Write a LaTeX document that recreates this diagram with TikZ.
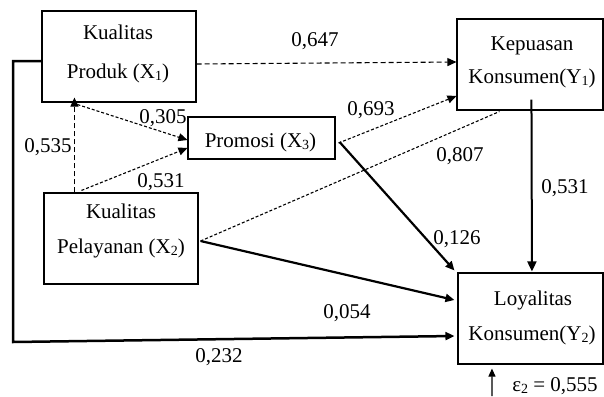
\documentclass[tikz,border=0pt]{standalone}
\usepackage{fontspec}
\setmainfont{Liberation Serif}
\usetikzlibrary{arrows.meta,calc}
\newcommand{\mysub}[1]{\raisebox{-2.5pt}{\fontsize{14}{14}\selectfont #1}}
\begin{document}
\begin{tikzpicture}[x=1pt,y=-1pt,
  box/.style={draw,line width=1.1pt,inner sep=0pt},
  txt/.style={anchor=base,inner sep=0pt,font=\fontsize{21}{24}\selectfont},
  lbl/.style={anchor=base,inner sep=0pt,font=\fontsize{21}{24}\selectfont},
  tip/.style={-{Triangle[length=9pt,width=8pt]}},
  dsh/.style={line width=1.1pt,dash pattern=on 5pt off 3pt},
  dotl/.style={line width=1.1pt,dash pattern=on 3pt off 2pt},
  thk/.style={line width=2.2pt}]
\useasboundingbox (0,0) rectangle (604,396);
% boxes
\node[box,minimum width=154pt,minimum height=91pt] (x1) at (119,56.5) {};
\node[box,minimum width=154pt,minimum height=91pt] (x2) at (121,238.5) {};
\node[box,minimum width=147pt,minimum height=42pt] (x3) at (261.5,138) {};
\node[box,minimum width=146pt,minimum height=91pt] (y1) at (530,64.5) {};
\node[box,minimum width=145pt,minimum height=91pt] (y2) at (530.5,318.5) {};
% box texts
\node[txt] (t1a) at (118,40) {Kualitas};
\node[txt] (t1b) at (118,78) {Produk (X\mysub{1})};
\node[txt] (t2a) at (121,218) {Kualitas};
\node[txt] (t2b) at (121,253) {Pelayanan (X\mysub{2})};
\node[txt] (t3) at (260.5,147) {Promosi (X\mysub{3})};
\node[txt] (t4a) at (532,50) {Kepuasan};
\node[txt] (t4b) at (532,83) {Konsumen(Y\mysub{1})};
\node[txt] (t5a) at (533,305) {Loyalitas};
\node[txt] (t5b) at (532,340) {Konsumen(Y\mysub{2})};
% connectors
\draw[dsh,tip] ($(x1.east)+(0,7.5)$) -- ($(y1.west)+(0,-2.5)$);
\draw[dsh,tip] ($(x2.north west)+(31,0)$) -- ($(x1.south west)+(33,-5)$);
\draw[dotl,tip] ($(x1.south west)+(36,2)$) -- ($(x3.west)+(0,2)$);
\draw[dotl,tip] ($(x2.north west)+(38,-2)$) -- ($(x3.west)+(0,10)$);
\draw[dotl,tip] ($(x3.east)+(3,5)$) -- ($(y1.west)+(0,31.5)$);
\draw[dotl] ($(x2.east)+(2,2.5)$) -- ($(y1.south west)+(43,1)$);
\draw[thk,tip] ($(x3.east)+(4,4)$) -- ($(y2.north west)+(-3,-2)$);
\draw[thk,tip] ($(x2.east)+(2,2.5)$) -- ($(y2.west)+(-3,-18.5)$);
\coordinate (c1) at (13,61);
\coordinate (c2) at (13,342);
\draw[line width=2.5pt,tip] ($(x1.west)+(0,4.5)$) -- (c1) -- (c2) -- ($(y2.west)+(-3,17.5)$);
\draw[line width=2pt,-{Triangle[length=10pt,width=9pt]}] ($(y1.south west)+(75,-11)$) -- ($(y2.north west)+(74.5,-1)$);
% error term
\coordinate (e0) at (492,396);
\draw[line width=1.1pt,-{Triangle[length=8pt,width=7pt]}] (e0) -- ($(y2.south west)+(34.5,4)$);
% coefficients
\node[lbl] (l1) at (315,46) {0,647};
\node[lbl] (l2) at (163,123) {0,305};
\node[lbl] (l3) at (48,152) {0,535};
\node[lbl] (l4) at (161,187) {0,531};
\node[lbl] (l5) at (371,115) {0,693};
\node[lbl] (l6) at (460,161) {0,807};
\node[lbl] (l7) at (565,193) {0,531};
\node[lbl] (l8) at (457,244) {0,126};
\node[lbl] (l9) at (347,318) {0,054};
\node[lbl] (l10) at (219,362) {0,232};
\node[lbl] (l11) at (555,391) {ε\mysub{2} = 0,555};
\end{tikzpicture}
\end{document}
